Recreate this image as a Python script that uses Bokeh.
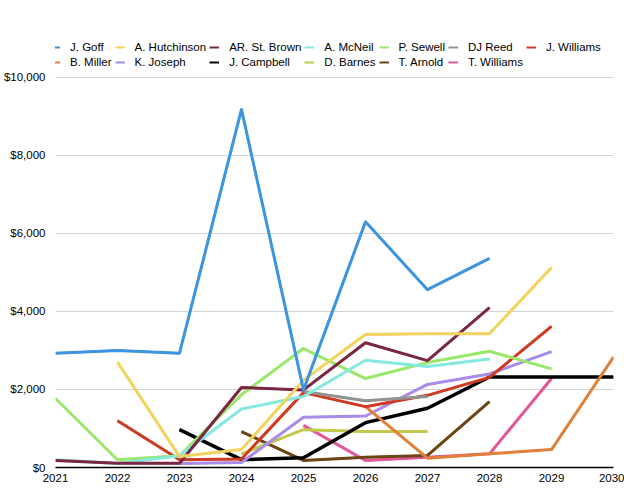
import numpy as np
from bokeh.plotting import figure
from bokeh.models import Range1d, FixedTicker, Legend, LegendItem, NumeralTickFormatter
from bokeh.embed import file_html
from bokeh.resources import INLINE

# Contract years on the x axis
years = [2021, 2022, 2023, 2024, 2025, 2026, 2027, 2028, 2029, 2030]
year_labels = ["2021", "2022", "2023", "2024", "2025", "2026", "2027", "2028", "2029", "2030"]
y_ticks = [0, 2000, 4000, 6000, 8000, 10000]

N = None
# Cap hit per player per year ($ thousands); None = no contract that year
goff = [2930, 3000, 2930, 9180, 1990, 6300, 4560, 5360, N, N]
hutchinson = [N, 2700, 280, 460, 2240, 3410, 3430, 3430, 5130, N]
st_brown = [180, 110, 110, 2050, 1990, 3200, 2740, 4100, N, N]
mcneil = [200, 100, 300, 1500, 1820, 2750, 2590, 2780, N, N]
sewell = [1770, 200, 300, 1870, 3050, 2280, 2690, 2980, 2530, N]
reed = [N, N, N, N, 1950, 1710, 1820, N, N, N]
j_williams = [N, 1200, 200, 220, 1920, 1560, 1850, 2310, 3620, N]
miller = [N, N, N, N, N, 1560, 240, 350, 460, 2830]
joseph = [N, N, 100, 130, 1290, 1320, 2130, 2400, 2970, N]
campbell = [N, N, 970, 200, 250, 1150, 1520, 2320, 2320, 2320]
barnes = [N, N, N, 350, 970, 920, 920, N, N, N]
arnold = [N, N, N, 920, 180, 260, 310, 1690, N, N]
t_williams = [N, N, N, N, 1080, 180, 260, 350, 2280, N]

players = [
    ("J. Goff", goff, "#3d94e0"),
    ("A. Hutchinson", hutchinson, "#f2d35e"),
    ("AR. St. Brown", st_brown, "#7b2642"),
    ("A. McNeil", mcneil, "#86e9df"),
    ("P. Sewell", sewell, "#99e86b"),
    ("DJ Reed", reed, "#929292"),
    ("J. Williams", j_williams, "#cf3a22"),
    ("B. Miller", miller, "#e0813a"),
    ("K. Joseph", joseph, "#a98ce8"),
    ("J. Campbell", campbell, "#000000"),
    ("D. Barnes", barnes, "#c2c94c"),
    ("T. Arnold", arnold, "#6b4514"),
    ("T. Williams", t_williams, "#e2579a"),
]

FONT = "Liberation Sans"

p = figure(
    width=624, height=499,
    x_range=Range1d(2021, 2030),
    y_range=Range1d(0, 11974),
    output_backend="svg", toolbar_location=None,
    min_border_left=55, min_border_right=11,
    min_border_top=0, min_border_bottom=32,
)
p.outline_line_color = None
p.background_fill_color = "white"
p.border_fill_color = "white"

# y axis: dollar labels, no axis line
p.yaxis.ticker = FixedTicker(ticks=y_ticks)
p.yaxis.formatter = NumeralTickFormatter(format="$0,0")
p.yaxis.axis_line_color = None
p.yaxis.major_tick_line_color = None
p.yaxis.minor_tick_line_color = None
p.yaxis.major_tick_out = 0
p.yaxis.major_tick_in = 0
p.yaxis.major_label_standoff = 10
p.yaxis.major_label_text_font = FONT
p.yaxis.major_label_text_font_size = "11.5px"
p.yaxis.major_label_text_color = "black"

# x axis: black baseline with year labels
p.xaxis.ticker = FixedTicker(ticks=years)
p.xaxis.major_label_overrides = {y: s for y, s in zip(years, year_labels)}
p.xaxis.axis_line_color = "black"
p.xaxis.axis_line_width = 1.5
p.xaxis.major_tick_line_color = None
p.xaxis.minor_tick_line_color = None
p.xaxis.major_tick_out = 0
p.xaxis.major_tick_in = 0
p.xaxis.major_label_standoff = 6
p.xaxis.major_label_text_font = FONT
p.xaxis.major_label_text_font_size = "11.5px"
p.xaxis.major_label_text_color = "black"

p.xgrid.visible = False
p.ygrid.ticker = FixedTicker(ticks=y_ticks)
p.ygrid.grid_line_color = "#d3d3d3"
p.ygrid.grid_line_width = 1


def series(vals):
    return np.array([np.nan if v is None else v for v in vals], dtype=float)


# thin copies underneath supply the slimmer legend swatches
swatch = {}
for name, vals, color in reversed(players):
    swatch[name] = p.line(years, series(vals), line_color=color, line_width=2)

# earlier series sit on top, so draw in reverse
for name, vals, color in reversed(players):
    p.line(years, series(vals), line_color=color,
           line_width=3.5 if name == "J. Campbell" else 3,
           line_join="round")

items = [LegendItem(label=name, renderers=[swatch[name]]) for name, _, _ in players]
legend = Legend(
    items=items, orientation="horizontal", ncols=7,
    location=(-5, 399), padding=0, margin=0, spacing=3,
    glyph_width=10, glyph_height=12, label_height=12, label_standoff=10,
    label_text_font=FONT, label_text_font_size="11.5px", label_text_color="black",
    border_line_color=None, background_fill_alpha=0,
)
p.add_layout(legend, "center")

open("out.html", "w").write(file_html(p, INLINE))
